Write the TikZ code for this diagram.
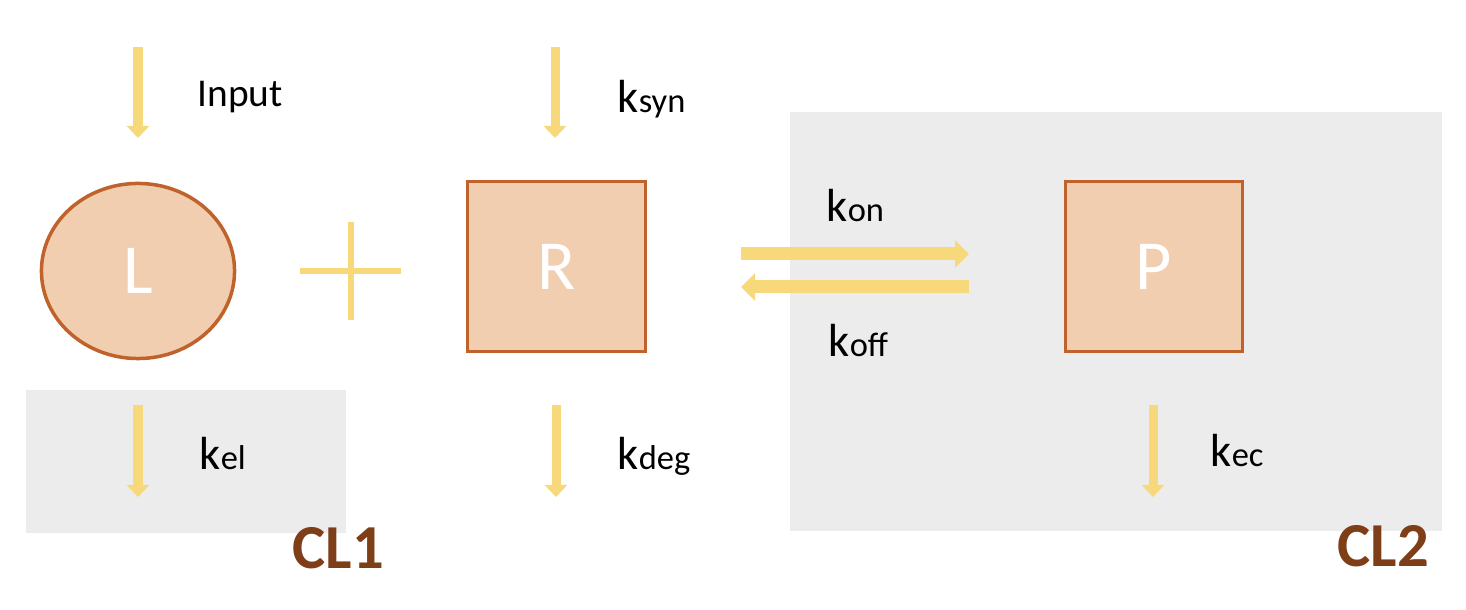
\documentclass[tikz,border=0pt]{standalone}
\usepackage{fontspec}
\setmainfont{Carlito}
\usetikzlibrary{arrows.meta,shapes.geometric}
\definecolor{bgray}{HTML}{ECECEC}
\definecolor{yel}{HTML}{F7D87A}
\definecolor{pfill}{HTML}{F2CEB1}
\definecolor{pline}{HTML}{C0622B}
\definecolor{brn}{HTML}{7E3F18}
\tikzset{
  region/.style={fill=bgray, draw=none},
  species/.style={fill=pfill, draw=pline, line width=0.035cm, text=white, font=\fontsize{20}{24}\selectfont, inner sep=0pt},
  vflow/.style={draw=yel, line width=0.09cm, -{Triangle[width=0.22cm,length=0.12cm]}},
  hflow/.style={draw=yel, line width=0.13cm, -{Triangle[width=0.27cm,length=0.14cm]}},
  lbl/.style={anchor=base west, inner sep=0pt, font=\fontsize{11.2}{13}\selectfont},
  klbl/.style={anchor=base west, inner sep=0pt, font=\fontsize{13.2}{16}\selectfont},
  cl/.style={anchor=base west, inner sep=0pt, text=brn, font=\fontsize{17.8}{21}\bfseries\selectfont},
}
\newcommand{\ksub}[1]{k{\fontsize{9.8}{12}\selectfont #1}}
\begin{document}
\begin{tikzpicture}[x=0.01cm,y=-0.01cm]
\useasboundingbox (0,0) rectangle (1466,610);
% compartments
\fill[region] (26,390) rectangle (346,533);
\fill[region] (790,112) rectangle (1442,531);
% species
\node[species, ellipse, minimum width=1.93cm, minimum height=1.75cm] (L) at (138,271) {L};
\node[species, rectangle, minimum width=1.78cm, minimum height=1.70cm] (R) at (556.5,266.5) {R};
\node[species, rectangle, minimum width=1.77cm, minimum height=1.70cm] (P) at (1154,266.5) {P};
% plus
\coordinate (pl) at (300,271); \coordinate (pr) at (401,271);
\coordinate (pt) at (351,222); \coordinate (pb) at (351,320);
\draw[yel, line width=0.06cm] (pl) -- (pr);
\draw[yel, line width=0.06cm] (pt) -- (pb);
% flows
\coordinate (in0) at (138,47); \coordinate (in1) at (138,138);
\coordinate (sy0) at (555,47); \coordinate (sy1) at (555,138);
\coordinate (el0) at (138,405); \coordinate (el1) at (138,497);
\coordinate (dg0) at (556,405); \coordinate (dg1) at (556,497);
\coordinate (ec0) at (1153,405); \coordinate (ec1) at (1153,497);
\coordinate (on0) at (741,254); \coordinate (on1) at (969,254);
\coordinate (of0) at (969,287); \coordinate (of1) at (741,287);
\draw[vflow] (in0) -- (in1);
\draw[vflow] (sy0) -- (sy1);
\draw[vflow] (el0) -- (el1);
\draw[vflow] (dg0) -- (dg1);
\draw[vflow] (ec0) -- (ec1);
\draw[hflow] (on0) -- (on1);
\draw[hflow] (of0) -- (of1);
% labels
\node[lbl] (tin) at (197,107) {Input};
\node[klbl] (tsyn) at (617,113) {\ksub{syn}};
\node[klbl] (ton) at (826,222) {\ksub{on}};
\node[klbl] (toff) at (828,357) {\ksub{off}};
\node[klbl] (tel) at (199,470) {\ksub{el}};
\node[klbl] (tdeg) at (617,470) {\ksub{deg}};
\node[klbl] (tec) at (1210,467) {\ksub{ec}};
\node[cl] (cl1) at (292,569) {CL1};
\node[cl] (cl2) at (1337,567) {CL2};
\end{tikzpicture}
\end{document}
